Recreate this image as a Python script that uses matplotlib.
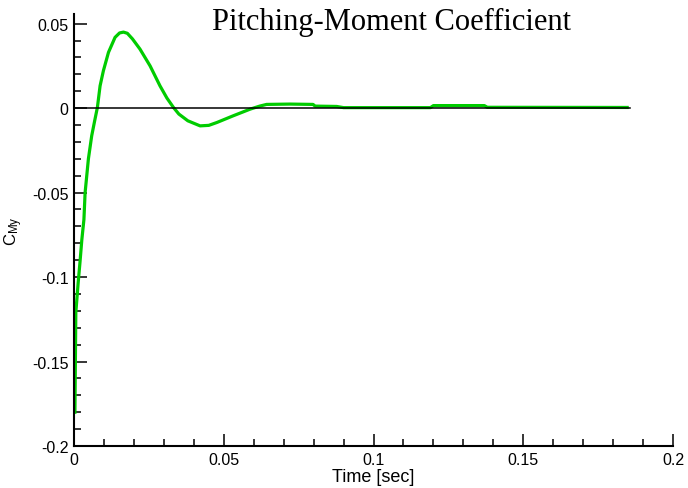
import matplotlib
matplotlib.use('Agg')
import matplotlib.pyplot as plt
from matplotlib.ticker import MultipleLocator, FuncFormatter

# pitching-moment time history
time_sec = [0.0003, 0.0006, 0.0014, 0.0020, 0.0026, 0.0033, 0.0037, 0.0048,
            0.0059, 0.0068, 0.0078, 0.0087, 0.0098, 0.0115, 0.0137, 0.0152,
            0.0165, 0.0178, 0.0195, 0.0220, 0.0254, 0.0287, 0.0310, 0.0332,
            0.0350, 0.0380, 0.0421, 0.0450, 0.0477, 0.0532, 0.0588, 0.0620,
            0.0643, 0.0721, 0.0798, 0.0805, 0.0877, 0.0900, 0.1190, 0.1200,
            0.1370, 0.1380, 0.1847]
c_my = [-0.180, -0.121, -0.103, -0.091, -0.078, -0.066, -0.050, -0.030,
        -0.0164, -0.0083, 0.0004, 0.0132, 0.0221, 0.0330, 0.0419, 0.0445,
        0.0450, 0.0443, 0.0410, 0.0350, 0.0250, 0.0132, 0.0060, 0.0004,
        -0.0035, -0.0075, -0.0105, -0.0102, -0.0085, -0.0045, -0.0006, 0.0012,
        0.0022, 0.0024, 0.0022, 0.0012, 0.0010, 0.0003, 0.0003, 0.0015,
        0.0015, 0.0005, 0.0004]

zero_line_end = 0.1856

fig = plt.figure(figsize=(6.88, 4.89), dpi=100)
ax = fig.add_axes([0.1076, 0.0859, 0.8706, 0.883])

ax.plot(time_sec, c_my, color='#00cc00', linewidth=2.3, zorder=2)
ax.plot([0, zero_line_end], [0, 0], color='black', linewidth=1.1, zorder=3)

ax.set_xlim(0, 0.2)
ax.set_ylim(-0.2, 0.0556)

for side in ['top', 'right']:
    ax.spines[side].set_visible(False)
for side in ['left', 'bottom']:
    ax.spines[side].set_linewidth(1.5)

ax.xaxis.set_major_locator(MultipleLocator(0.05))
ax.xaxis.set_minor_locator(MultipleLocator(0.01))
ax.yaxis.set_major_locator(MultipleLocator(0.05))
ax.yaxis.set_minor_locator(MultipleLocator(0.01))

fmt = FuncFormatter(lambda v, pos: '0' if abs(v) < 1e-9 else ('%g' % round(v, 3)))
ax.xaxis.set_major_formatter(fmt)
ax.yaxis.set_major_formatter(fmt)

ax.tick_params(which='major', direction='in', length=9, width=1.1,
               labelsize=11.5, pad=4)
ax.tick_params(which='minor', direction='in', length=5, width=1.1)
for lbl in ax.get_xticklabels() + ax.get_yticklabels():
    lbl.set_family('Liberation Sans')

ax.set_xlabel('Time [sec]', fontsize=13, family='Liberation Sans', labelpad=1)
ax.set_ylabel(r'$\mathregular{C_{My}}$', fontsize=12, family='Liberation Sans')
ax.yaxis.set_label_coords(-0.082, 0.5)

fig.text(392 / 688, 1 - 30 / 489, 'Pitching-Moment Coefficient',
         family='Liberation Serif', fontsize=22, ha='center', va='baseline')

fig.savefig('out.png', dpi=100)
